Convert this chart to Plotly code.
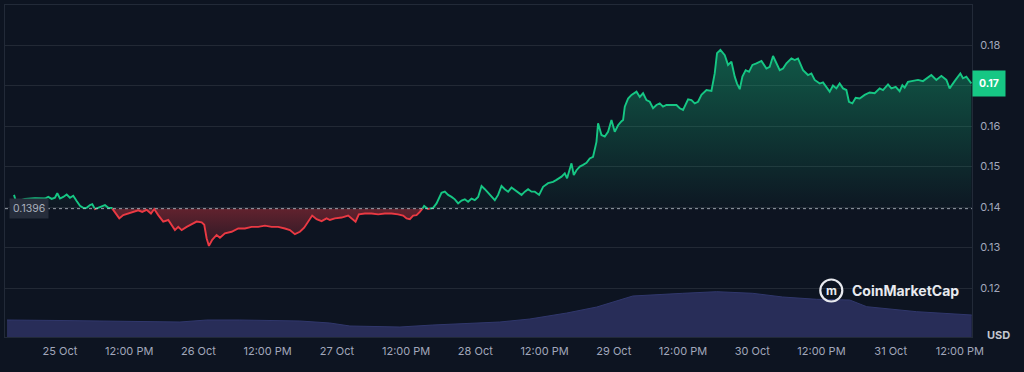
import pandas as pd
import plotly.graph_objects as go

# ---------------- data ----------------
origin = pd.Timestamp("2024-10-25 00:00")
baseline_price = 0.1396
last_price_label = "0.17"

# hours since 25 Oct 00:00
price_hours = [
    -7.97, -7.62, -6.07, -4.33, -2.60, -2.03, -1.44, -0.87, -0.47, 0.0, 0.57, 1.16, 1.73,
    2.30, 2.89, 3.47, 4.04, 4.63, 5.20, 5.60, 6.07, 6.64, 7.23, 7.80, 8.37, 8.96, 9.53,
    10.28, 10.97, 11.84, 12.70, 13.57, 14.26, 15.02, 15.77, 16.34, 17.03, 17.90, 18.77,
    19.36, 19.93, 20.50, 21.09, 21.96, 22.82, 23.69, 24.56, 25.01, 25.42, 25.82, 26.39,
    27.15, 27.73, 28.59, 29.75, 30.90, 32.06, 33.22, 34.36, 35.52, 36.69, 37.83, 38.99,
    39.86, 40.72, 41.59, 42.33, 43.03, 43.72, 44.48, 45.35, 46.22, 46.79, 47.65, 48.82,
    49.96, 50.65, 51.24, 51.81, 52.85, 54.01, 55.16, 56.32, 57.48, 58.62, 59.49, 60.08,
    60.65, 61.22, 61.81, 62.38, 62.95, 63.13, 63.82, 64.69, 65.28,
    66.14, 66.72, 67.29, 67.88, 68.45, 69.02, 69.61, 70.18, 70.75, 71.34, 71.91, 72.49,
    73.08, 73.65, 74.22, 74.81, 75.38, 75.95, 76.54, 77.11, 77.69, 78.27, 78.85, 79.42,
    80.01, 80.58, 81.15, 81.74, 82.31, 83.06, 83.75, 84.62, 85.48, 86.07, 86.94, 87.51,
    87.91, 88.67, 89.07, 89.54, 90.11, 90.68, 91.27, 91.84, 92.41, 93.00, 93.28, 93.87,
    94.44, 95.01, 95.60, 96.17, 96.75, 97.34, 97.62,
    97.91, 98.48, 99.07, 99.94, 100.51, 101.08, 101.67, 102.24, 102.81, 103.40, 103.97,
    104.54, 105.13, 106.00, 106.87, 107.44, 108.01, 108.88, 109.47, 110.04, 110.61, 111.20,
    112.07, 112.93, 113.50, 113.90, 114.49, 115.24, 115.81, 116.40, 116.97, 117.37, 117.84,
    118.30, 118.87, 119.45, 120.04, 120.73, 121.60, 122.46, 123.03, 123.61, 124.19, 124.77,
    125.34, 125.93, 126.80, 127.37, 127.94,
    128.81, 129.67, 130.26, 130.83, 131.70, 132.27, 132.86, 133.43, 134.00, 134.59, 135.16,
    135.74, 136.32, 136.77, 137.36, 137.93, 138.63, 139.50, 140.36, 141.23, 142.10, 142.67,
    143.54, 144.12, 144.87, 145.56, 146.03, 146.43, 147.00, 147.87, 148.74, 149.60, 150.29,
    151.05, 151.92, 152.79, 153.66, 154.22, 155.09, 156.08, 156.53, 157.12, 157.99,
]
price_usd = [
    0.1430, 0.1413, 0.1420, 0.1422, 0.1421, 0.1425, 0.1420, 0.1423, 0.1434, 0.1421, 0.1425,
    0.1431, 0.1423, 0.1428, 0.1415, 0.1403, 0.1398, 0.1398, 0.1405, 0.1407, 0.1395, 0.1398,
    0.1403, 0.1405, 0.1398, 0.1398, 0.1388, 0.1372, 0.1380, 0.1384, 0.1388, 0.1392, 0.1388,
    0.1393, 0.1384, 0.1395, 0.1380, 0.1364, 0.1368, 0.1356, 0.1343, 0.1351, 0.1343, 0.1351,
    0.1357, 0.1364, 0.1362, 0.1356, 0.1323, 0.1304, 0.1319, 0.1331, 0.1324, 0.1335, 0.1339,
    0.1347, 0.1347, 0.1351, 0.1351, 0.1354, 0.1351, 0.1351, 0.1347, 0.1343, 0.1333, 0.1339,
    0.1349, 0.1364, 0.1379, 0.1370, 0.1365, 0.1372, 0.1368, 0.1372, 0.1374, 0.1379, 0.1370,
    0.1364, 0.1382, 0.1384, 0.1384, 0.1382, 0.1384, 0.1384, 0.1382, 0.1379, 0.1372, 0.1370,
    0.1379, 0.1380, 0.1388, 0.1398, 0.1403, 0.1395, 0.1398, 0.1409,
    0.1435, 0.1438, 0.1430, 0.1425, 0.1419, 0.1409, 0.1416, 0.1419, 0.1413, 0.1421, 0.1417,
    0.1425, 0.1452, 0.1444, 0.1435, 0.1427, 0.1417, 0.1430, 0.1452, 0.1444, 0.1438, 0.1448,
    0.1442, 0.1434, 0.1430, 0.1438, 0.1444, 0.1438, 0.1438, 0.1430, 0.1450, 0.1459, 0.1462,
    0.1467, 0.1475, 0.1483, 0.1471, 0.1508, 0.1479, 0.1491, 0.1500, 0.1504, 0.1509, 0.1520,
    0.1524, 0.1561, 0.1607, 0.1578, 0.1574, 0.1586, 0.1615, 0.1586, 0.1602, 0.1612, 0.1615,
    0.1648, 0.1668, 0.1677, 0.1685, 0.1672, 0.1681, 0.1664, 0.1660, 0.1644, 0.1652, 0.1656,
    0.1648, 0.1652, 0.1652, 0.1652, 0.1644, 0.1640, 0.1666, 0.1664, 0.1656, 0.1660, 0.1677,
    0.1689, 0.1687, 0.1730, 0.1780, 0.1788, 0.1775, 0.1751, 0.1759, 0.1722, 0.1705, 0.1691,
    0.1722, 0.1738, 0.1734, 0.1751, 0.1755, 0.1761, 0.1742, 0.1746, 0.1773, 0.1755, 0.1738,
    0.1742, 0.1755, 0.1767, 0.1763, 0.1767,
    0.1738, 0.1726, 0.1730, 0.1714, 0.1705, 0.1708, 0.1697, 0.1685, 0.1700, 0.1693, 0.1705,
    0.1693, 0.1689, 0.1660, 0.1656, 0.1670, 0.1668, 0.1677, 0.1683, 0.1681, 0.1693, 0.1689,
    0.1703, 0.1693, 0.1697, 0.1686, 0.1701, 0.1695, 0.1709, 0.1711, 0.1714, 0.1711, 0.1719,
    0.1726, 0.1714, 0.1724, 0.1714, 0.1693, 0.1711, 0.1730, 0.1718, 0.1722, 0.1705,
]

volume_hours = [-9.18, -6.07, 0.0, 6.93, 15.6, 20.8, 25.47, 31.19, 41.59, 46.79, 50.26,
                58.92, 64.64, 71.05, 76.25, 81.45, 87.86, 93.06, 99.3, 107.96, 113.85,
                120.09, 125.29, 131.18, 136.9, 139.85, 148.51, 158.05]
volume_musd = [17, 17, 16.5, 16, 15, 15, 17, 17, 16, 14, 11, 10, 12, 14, 15, 18, 24, 30,
               41, 43.7, 45.3, 43.7, 40, 37.7, 37, 30.3, 25.3, 22]

tick_hours = [0, 12, 24, 36, 48, 60, 72, 84, 96, 108, 120, 132, 144, 156]
tick_labels = ["25 Oct", "12:00 PM", "26 Oct", "12:00 PM", "27 Oct", "12:00 PM", "28 Oct",
               "12:00 PM", "29 Oct", "12:00 PM", "30 Oct", "12:00 PM", "31 Oct", "12:00 PM"]
price_ticks = [0.12, 0.13, 0.14, 0.15, 0.16, 0.17, 0.18]
price_tick_labels = ["0.12", "0.13", "0.14", "0.15", "0.16", "", "0.18"]  # 0.17 sits under the price tag

# ---------------- styling ----------------
BG = "#0d1421"
GREEN = "#16c784"
RED = "#ea3943"
GRID = "rgba(255,255,255,0.09)"
TXT = "#a1a7bb"


def ts(h):
    return origin + pd.Timedelta(hours=h)


# insert baseline crossings so the line switches colour exactly at the baseline
xs, ys = [], []
for i, (h, p) in enumerate(zip(price_hours, price_usd)):
    if i > 0:
        h0, p0 = price_hours[i - 1], price_usd[i - 1]
        if (p0 - baseline_price) * (p - baseline_price) < 0:
            f = (baseline_price - p0) / (p - p0)
            xs.append(h0 + f * (h - h0))
            ys.append(baseline_price)
    xs.append(h)
    ys.append(p)

xt = [ts(h) for h in xs]
green_line = [y if y >= baseline_price else None for y in ys]
red_line = [y if y <= baseline_price else None for y in ys]
upper = [max(y, baseline_price) for y in ys]
lower = [min(y, baseline_price) for y in ys]
base_arr = [baseline_price] * len(ys)

fig = go.Figure()

# volume (secondary axis)
fig.add_trace(go.Scatter(
    x=[ts(h) for h in volume_hours], y=volume_musd, yaxis="y2",
    mode="lines", line=dict(color="#30376c", width=1),
    fill="tozeroy", fillcolor="#282d58", hoverinfo="skip", showlegend=False))

# green fill
fig.add_trace(go.Scatter(x=xt, y=base_arr, mode="lines", line=dict(width=0),
                         hoverinfo="skip", showlegend=False))
fig.add_trace(go.Scatter(
    x=xt, y=upper, mode="lines", line=dict(width=0), fill="tonexty",
    fillgradient=dict(type="vertical", start=0.14, stop=0.178,
                      colorscale=[[0, "rgba(22,199,132,0.02)"], [1, "rgba(22,199,132,0.38)"]]),
    hoverinfo="skip", showlegend=False))
# red fill
fig.add_trace(go.Scatter(x=xt, y=base_arr, mode="lines", line=dict(width=0),
                         hoverinfo="skip", showlegend=False))
fig.add_trace(go.Scatter(
    x=xt, y=lower, mode="lines", line=dict(width=0), fill="tonexty",
    fillgradient=dict(type="vertical", start=0.130, stop=0.1396,
                      colorscale=[[0, "rgba(234,57,67,0.12)"], [1, "rgba(234,57,67,0.38)"]]),
    hoverinfo="skip", showlegend=False))

# lines
fig.add_trace(go.Scatter(x=xt, y=green_line, mode="lines", connectgaps=False,
                         line=dict(color=GREEN, width=1.9), showlegend=False))
fig.add_trace(go.Scatter(x=xt, y=red_line, mode="lines", connectgaps=False,
                         line=dict(color=RED, width=1.9), showlegend=False))

fig.update_layout(
    width=1024, height=372,
    margin=dict(l=5, r=52, t=5, b=35),
    paper_bgcolor=BG, plot_bgcolor=BG,
    font=dict(family="Inter, Roboto, sans-serif", color=TXT, size=11),
    xaxis=dict(
        type="date", range=[ts(-9.53), ts(158.1)],
        tickvals=[ts(h) for h in tick_hours], ticktext=tick_labels,
        showgrid=False, zeroline=False,
        showline=True, linecolor="#222a38", mirror=True,
        ticks="outside", ticklen=4, tickcolor="rgba(0,0,0,0)",
        tickfont=dict(size=11, color=TXT),
    ),
    yaxis=dict(
        side="right", range=[0.1079, 0.1899],
        tickvals=price_ticks, ticktext=price_tick_labels,
        showgrid=True, gridcolor=GRID, gridwidth=1, zeroline=False,
        showline=True, linecolor="#222a38", mirror=True,
        ticks="outside", ticklen=5, tickcolor="rgba(0,0,0,0)",
        tickfont=dict(size=11, color=TXT),
    ),
    yaxis2=dict(overlaying="y", range=[0, 332], visible=False),
    annotations=[
        dict(xref="paper", yref="y", x=0.004, y=baseline_price, text="0.1396",
             showarrow=False, xanchor="left", yanchor="middle",
             bgcolor="#262d3b", borderpad=3, font=dict(size=10.5, color="#aab0bd")),
        dict(xref="paper", yref="y", x=1.0, y=price_usd[-1], text=f"<b>{last_price_label}</b>",
             showarrow=False, xanchor="left", yanchor="middle",
             bgcolor=GREEN, borderpad=6, font=dict(size=10.5, color="#ffffff")),
        dict(xref="paper", yref="paper", x=1.013, y=0.005, text="<b>USD</b>",
             showarrow=False, xanchor="left", yanchor="middle",
             font=dict(size=11, color="#c3c7d0")),
        dict(xref="paper", yref="paper", x=0.874, y=0.14, text="<b>CoinMarketCap</b>",
             showarrow=False, xanchor="left", yanchor="middle",
             font=dict(size=14, color="#e8eaef")),
        dict(xref="paper", yref="paper", x=0.8545, y=0.14, text="<b>m</b>",
             showarrow=False, xanchor="center", yanchor="middle",
             font=dict(size=12, color="#e8eaef")),
    ],
)

# dotted baseline
fig.add_shape(type="line", xref="paper", yref="y", x0=0, x1=1,
              y0=baseline_price, y1=baseline_price,
              line=dict(color="rgba(200,205,215,0.75)", width=1, dash="dot"))
# watermark logo ring
fig.add_shape(type="circle", xref="paper", yref="paper",
              xsizemode="pixel", ysizemode="pixel", xanchor=0.8545, yanchor=0.14,
              x0=-11, x1=11, y0=-11, y1=11,
              line=dict(color="#e8eaef", width=2.2, dash="solid"))

fig.write_html("out.html", config={"displayModeBar": False},
               post_script="document.body.style.margin='0';")
